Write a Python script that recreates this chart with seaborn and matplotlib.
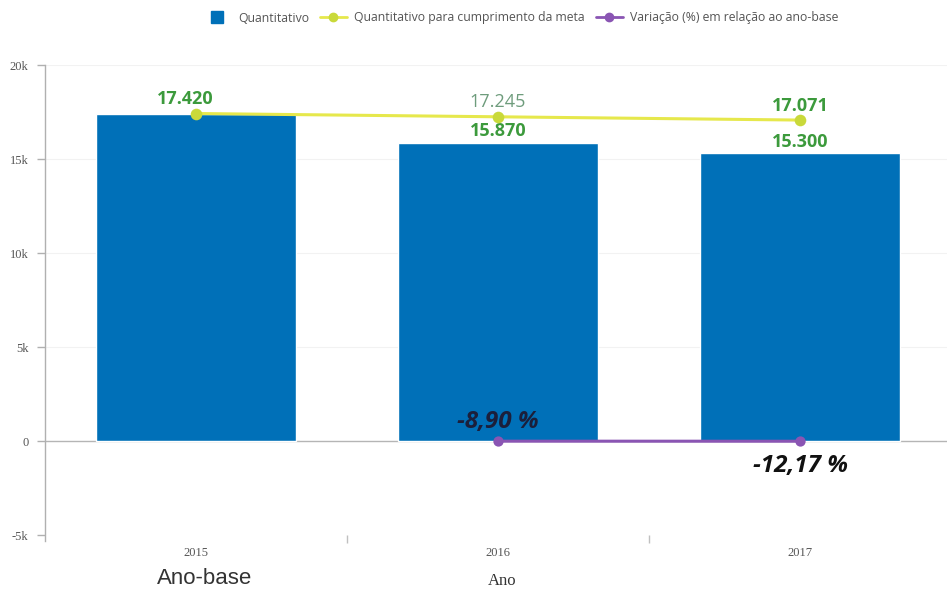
import matplotlib
matplotlib.use("Agg")
import matplotlib.pyplot as plt
from matplotlib.lines import Line2D
import seaborn as sns
import pandas as pd

# Data
anos = ["2015", "2016", "2017"]
quantitativo = [17420, 15870, 15300]
meta = [17420, 17245, 17071]
anos_variacao = ["2016", "2017"]
variacao_pct = [-8.90, -12.17]

sns.set_theme(style="white")
plt.rcParams["font.family"] = ["Open Sans", "DejaVu Sans"]

BLUE = "#0070b8"
YELLOW_LINE = "#e6e84c"
YELLOW_MARK = "#c9d93a"
PURPLE = "#8a55b3"
GREEN = "#3c9a3c"
GREEN_LIGHT = "#6e9c7c"
GRAY = "#555555"

fig = plt.figure(figsize=(9.47, 6.0), dpi=100)
ax = fig.add_axes([45 / 947, (600 - 535) / 600, (951 - 45) / 947, (535 - 65) / 600])

df_q = pd.DataFrame({"Ano": anos, "Quantitativo": quantitativo})
df_m = pd.DataFrame({"Ano": anos, "Meta": meta})
df_v = pd.DataFrame({"Ano": anos_variacao, "Variacao": variacao_pct})

sns.barplot(data=df_q, x="Ano", y="Quantitativo", order=anos, color=BLUE,
            saturation=1, width=0.665, ax=ax, zorder=2)

sns.pointplot(data=df_m, x="Ano", y="Meta", order=anos, color=YELLOW_LINE,
              markers="o", markersize=0, linewidth=2.2, ax=ax, zorder=3)
ax.scatter(range(len(anos)), meta, s=70, color=YELLOW_MARK, zorder=4, linewidths=0)

sns.pointplot(data=df_v, x="Ano", y="Variacao", order=anos, color=PURPLE,
              markers="o", markersize=0, linewidth=2.2, ax=ax, zorder=3)
ax.scatter([anos.index(a) for a in anos_variacao], variacao_pct, s=55,
           color=PURPLE, zorder=4, linewidths=0)

ax.set_xlim(-0.5, 2.5)
ax.set_ylim(-5000, 20000)

# Axes styling
for side in ["top", "right", "bottom"]:
    ax.spines[side].set_visible(False)
ax.spines["left"].set_color("#b0b0b0")
ax.spines["left"].set_linewidth(1)
ax.spines["left"].set_bounds(-5300, 20000)
ax.axhline(0, color="#b5b5b5", lw=1, zorder=1.5)
ax.set_yticks([-5000, 0, 5000, 10000, 15000, 20000])
ax.set_yticklabels(["-5k", "0", "5k", "10k", "15k", "20k"])
for y in [5000, 10000, 15000, 20000]:
    ax.axhline(y, color="#f2f2f2", lw=0.8, zorder=0)
ax.tick_params(axis="y", direction="out", length=6, width=1, color="#b0b0b0",
               labelsize=9, labelcolor=GRAY, pad=6, left=True)
ax.tick_params(axis="x", which="major", length=0, labelsize=9, labelcolor=GRAY, pad=9)
for lab in ax.get_yticklabels() + ax.get_xticklabels():
    lab.set_fontfamily("Liberation Serif")
ax.set_xticks([0.5, 1.5], minor=True)
ax.tick_params(axis="x", which="minor", bottom=True, direction="out", length=6,
               width=1, color="#c0c0c0", pad=0)
ax.set_xlabel("")
ax.set_ylabel("")
ax.grid(False)

# Value labels
def fmt_int(v):
    return f"{v:,.0f}".replace(",", ".")

meta_style = [("bold", GREEN, -8), ("normal", GREEN_LIGHT, 0), ("bold", GREEN, 0)]
for i, v in enumerate(meta):
    w, c, dx = meta_style[i]
    ax.annotate(fmt_int(v), (i, v), xytext=(dx, 4), textcoords="offset points",
                ha="center", va="bottom", fontsize=13, fontweight=w, color=c)

for i, v in enumerate(quantitativo):
    if i == 0:
        continue
    ax.annotate(fmt_int(v), (i, v), xytext=(0, 2), textcoords="offset points",
                ha="center", va="bottom", fontsize=13, fontweight="bold", color=GREEN)

var_offsets = [(0, 5, "bottom", "#1b1f3b"), (0, -9, "top", "#111111")]
for (a, v), (dx, dy, va, c) in zip(zip(anos_variacao, variacao_pct), var_offsets):
    txt = f"{v:.2f}".replace(".", ",") + " %"
    ax.annotate(txt, (anos.index(a), v), xytext=(dx, dy), textcoords="offset points",
                ha="center", va=va, fontsize=17.5, fontweight="bold",
                fontstyle="italic", color=c)

# Axis captions
fig.text(205 / 947, 1 - 578 / 600, "Ano-base", ha="center", va="center",
         fontsize=16, color="#333333", family="Liberation Sans")
fig.text(502 / 947, 1 - 581 / 600, "Ano", ha="center", va="center",
         fontsize=12, color="#333333", family="Liberation Serif")

# Legend
handles = [
    Line2D([], [], marker="s", linestyle="none", color=BLUE, markersize=9),
    Line2D([], [], marker="o", color=YELLOW_LINE, markerfacecolor=YELLOW_MARK,
           markeredgecolor=YELLOW_MARK, lw=2, markersize=6),
    Line2D([], [], marker="o", color=PURPLE, lw=2, markersize=6),
]
labels = ["Quantitativo", "Quantitativo para cumprimento da meta",
          "Variação (%) em relação ao ano-base"]
leg = fig.legend(handles, labels, loc="center", bbox_to_anchor=(521 / 947, 1 - 18 / 600),
                 ncol=3, frameon=False, fontsize=8.8, labelcolor=GRAY, handlelength=2.2,
                 handletextpad=0.6, columnspacing=0.9)

fig.savefig("out.png", dpi=100)
